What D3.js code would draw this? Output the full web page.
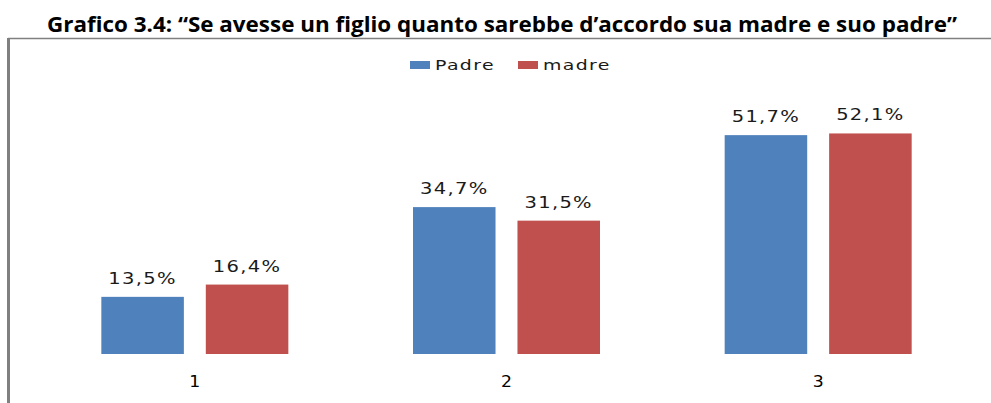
<!DOCTYPE html>
<html>
<head>
<meta charset="utf-8">
<script src="https://cdn.jsdelivr.net/npm/d3@7"></script>
<style>
  body { margin: 0; background: #fff; }
  svg { display: block; }
</style>
</head>
<body>
<svg width="991" height="403"></svg>
<script>
var categories = ["1", "2", "3"];
var series = ["Padre", "madre"];
var padreValues = [13.5, 34.7, 51.7];
var madreValues = [16.4, 31.5, 52.1];
var colors = ["#4f81bd", "#c0504d"];

var svg = d3.select("svg"),
    width = +svg.attr("width"),
    height = +svg.attr("height");

var fmt = function (v) { return v.toFixed(1).replace(".", ",") + "%"; };

// stretch text horizontally like the original
function stretch(sel, k) {
    sel.each(function () {
        var w = this.getComputedTextLength();
        d3.select(this).attr("textLength", w * k).attr("lengthAdjust", "spacingAndGlyphs");
    });
}

// title
svg.append("text")
    .attr("x", 502)
    .attr("y", 32)
    .attr("text-anchor", "middle")
    .style("font-family", "'Open Sans', sans-serif")
    .style("font-weight", "bold")
    .style("font-size", "22px")
    .text("Grafico 3.4: \u201CSe avesse un figlio quanto sarebbe d\u2019accordo sua madre e suo padre\u201D")
    .attr("textLength", 910)
    .attr("lengthAdjust", "spacingAndGlyphs");

// chart frame (top and left edges visible)
svg.append("line").attr("x1", 8).attr("x2", width).attr("y1", 38.5).attr("y2", 38.5)
    .attr("stroke", "#808080").attr("stroke-width", 1.5);
svg.append("line").attr("x1", 8.5).attr("x2", 8.5).attr("y1", 38).attr("y2", height)
    .attr("stroke", "#808080").attr("stroke-width", 3);

var x0 = d3.scaleBand().domain(categories).range([39, 974]).paddingInner(0.4).paddingOuter(0.2);
var x1 = d3.scaleBand().domain(series).range([0, x0.bandwidth()]).paddingInner(0.21);
var y = d3.scaleLinear().domain([0, 60]).range([354, 100]);
var color = d3.scaleOrdinal().domain(series).range(colors);

var rows = categories.map(function (c, i) {
    return { cat: c, vals: [
        { s: "Padre", v: padreValues[i] },
        { s: "madre", v: madreValues[i] }
    ] };
});

var groups = svg.append("g").selectAll("g")
    .data(rows)
    .enter().append("g")
    .attr("transform", function (d) { return "translate(" + x0(d.cat) + ",0)"; });

groups.selectAll("rect")
    .data(function (d) { return d.vals; })
    .enter().append("rect")
    .attr("x", function (d) { return x1(d.s); })
    .attr("y", function (d) { return y(d.v); })
    .attr("width", x1.bandwidth())
    .attr("height", function (d) { return y(0) - y(d.v); })
    .attr("fill", function (d) { return color(d.s); });

groups.selectAll("text.val")
    .data(function (d) { return d.vals; })
    .enter().append("text")
    .attr("class", "val")
    .attr("x", function (d) { return x1(d.s) + x1.bandwidth() / 2; })
    .attr("y", function (d) { return y(d.v) - 13; })
    .attr("text-anchor", "middle")
    .style("font-family", "'DejaVu Sans', sans-serif")
    .style("font-size", "15px")
    .style("letter-spacing", "1px")
    .attr("fill", "#1a1a1a")
    .text(function (d) { return fmt(d.v); })
    .call(stretch, 1.3);

// category axis, no line or ticks
var xAxis = svg.append("g")
    .attr("transform", "translate(0,354)")
    .call(d3.axisBottom(x0).tickSize(0).tickPadding(33));
xAxis.select(".domain").remove();
xAxis.selectAll("text")
    .style("font-family", "'DejaVu Sans', sans-serif")
    .style("font-size", "15px")
    .attr("fill", "#000")
    .attr("dy", 0)
    .call(stretch, 1.15);

// legend
var legendX = [410, 518];
var legend = svg.append("g").selectAll("g")
    .data(series)
    .enter().append("g")
    .attr("transform", function (d, i) { return "translate(" + legendX[i] + ",61)"; });
legend.append("rect")
    .attr("width", 20).attr("height", 8)
    .attr("fill", function (d) { return color(d); });
legend.append("text")
    .attr("x", 25)
    .attr("y", 8.5)
    .style("font-family", "'DejaVu Sans', sans-serif")
    .style("font-size", "14px")
    .style("letter-spacing", "1px")
    .attr("fill", "#1a1a1a")
    .text(function (d) { return d; })
    .call(stretch, 1.35);
</script>
</body>
</html>
